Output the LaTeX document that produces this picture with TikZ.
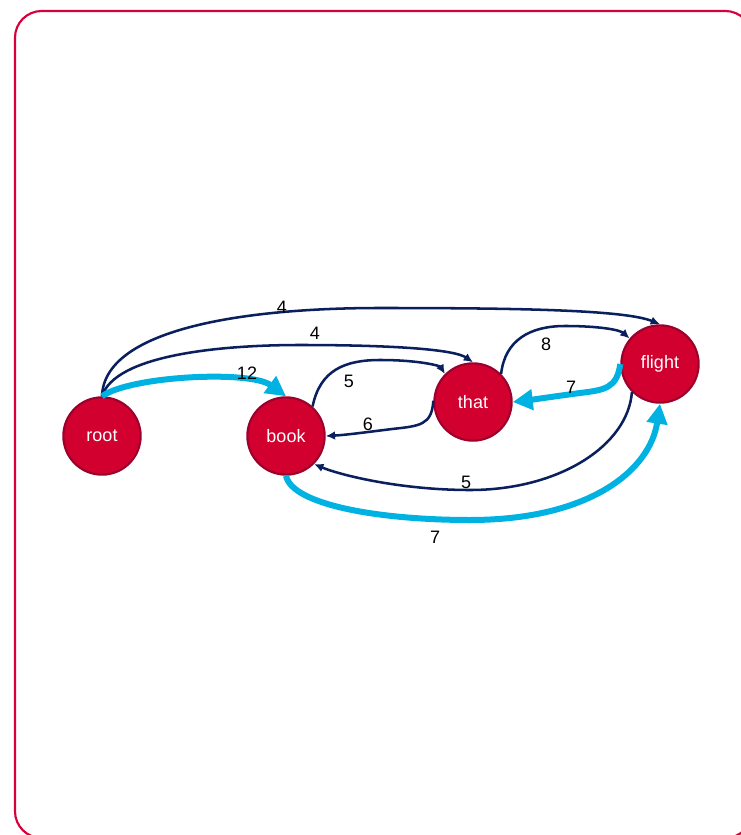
\documentclass[tikz,border=0pt]{standalone}
\usepackage{fontspec}
\setmainfont{Liberation Sans}
\usepackage{xcolor}
\usetikzlibrary{arrows.meta}

\definecolor{wordred}{HTML}{D2002E}
\definecolor{wordedge}{HTML}{9C002C}
\definecolor{arcnavy}{HTML}{0A1F5E}
\definecolor{arccyan}{HTML}{00B2E2}
\definecolor{framered}{HTML}{D6003A}

\tikzset{
  word/.style={circle, draw=wordedge, line width=1.6pt, fill=wordred,
               minimum size=58pt, inner sep=0pt, text=white,
               font=\fontsize{13.5pt}{16pt}\selectfont},
  arc/.style={draw=arcnavy, line width=1.9pt,
              -{Latex[length=7pt, width=6.5pt]}},
  bestarc/.style={draw=arccyan, line width=4.5pt,
                  -{Triangle[length=15pt, width=15pt]}},
  weight/.style={font=\fontsize{13.5pt}{16pt}\selectfont, text=black}
}

\begin{document}
\begin{tikzpicture}[x=0.75pt, y=-0.75pt]
  \useasboundingbox (0,0) rectangle (741,835);
  \clip (0,0) rectangle (741,835);

  % slide frame
  \draw[framered, line width=1.6pt, rounded corners=20pt]
    (15,11) rectangle (752,838);

  % words of the sentence
  \node[word] (root)   at (102,436) {root};
  \node[word] (book)   at (286,436) {book};
  \node[word] (that)   at (473,402) {that};
  \node[word] (flight) at (660,364) {flight};

  % arcs leaving root
  \draw[arc] (root.north) .. controls (104,330) and (240,308) .. (380,308)
                          .. controls (520,308) and (625,310) .. (flight.north);
  \draw[arc] (root.north) .. controls (115,355) and (220,345) .. (300,345)
                          .. controls (400,345) and (455,350) .. (that.north);
  \draw[bestarc] (root.north) .. controls (130,376) and (250,370) .. (book.north);

  % arcs between book and that
  \draw[arc] (book.48) .. controls (320,370) and (345,360) .. (380,360)
                       .. controls (420,360) and (440,366) .. (that.135);
  \draw[arc] (that.178) .. controls (432,425) and (420,426) .. (392,429)
                        .. controls (360,433) and (345,435) .. (book.east);

  % arcs between that and flight
  \draw[arc] (that.45) .. controls (505,340) and (530,326) .. (565,326)
                       .. controls (600,326) and (620,330) .. (flight.140);
  \draw[bestarc] (flight.west) .. controls (617,388) and (605,390) .. (580,393)
                               .. controls (550,397) and (530,400) .. (that.east);

  % long arcs under the sentence
  \draw[arc] (flight.225) .. controls (628,445) and (560,490) .. (470,490)
                          .. controls (400,490) and (340,475) .. (book.-45);
  \draw[bestarc] (book.south) .. controls (292,505) and (380,520) .. (470,520)
                              .. controls (590,520) and (650,470) .. (flight.south);

  % arc weights
  \node[weight] (w1) at (282,307) {4};
  \node[weight] (w2) at (315,333) {4};
  \node[weight] (w3) at (247,373) {12};
  \node[weight] (w4) at (349,381) {5};
  \node[weight] (w5) at (368,424) {6};
  \node[weight] (w6) at (546,344) {8};
  \node[weight] (w7) at (571,387) {7};
  \node[weight] (w8) at (466,482) {5};
  \node[weight] (w9) at (435,537) {7};
\end{tikzpicture}
\end{document}
